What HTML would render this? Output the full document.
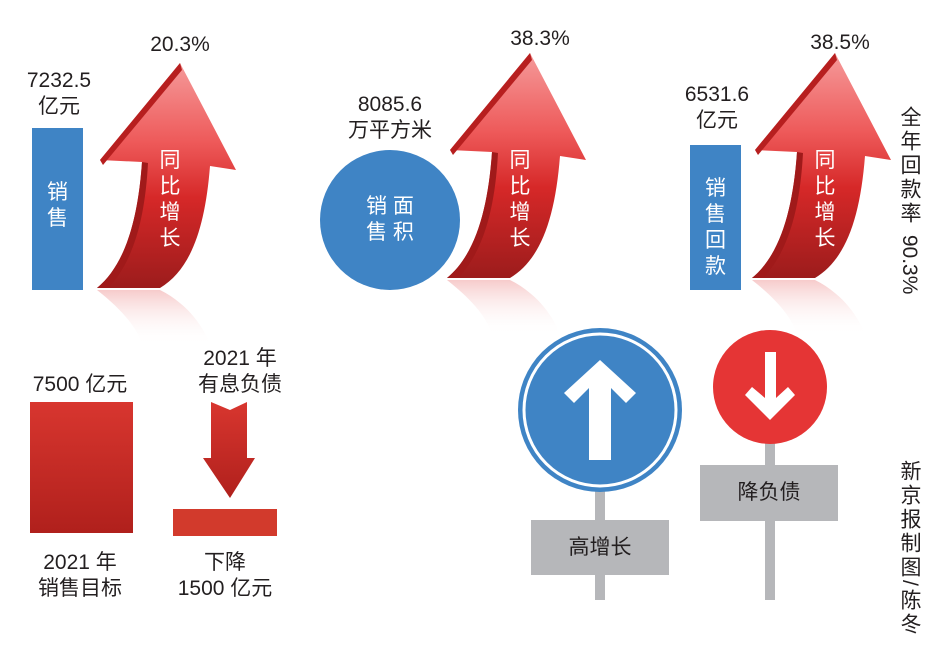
<!DOCTYPE html>
<html><head><meta charset="utf-8"><style>
body{margin:0;background:#fff;width:935px;height:639px;overflow:hidden;position:relative;font-family:"Liberation Sans","Noto Sans CJK SC",sans-serif;}
.t{position:absolute;color:#231f20;font-size:21px;text-align:center;line-height:26px;white-space:nowrap}
.w{color:#fff}
.v{position:absolute;writing-mode:vertical-rl;font-size:21px;color:#231f20;line-height:22px;letter-spacing:3px;white-space:nowrap;height:200px}
.v span{letter-spacing:0}
</style></head><body>
<svg width="935" height="639" style="position:absolute;left:0;top:0">
<defs>
<linearGradient id="g" x1="0" y1="0" x2="0" y2="1">
<stop offset="0" stop-color="#f59a9a"/><stop offset="0.35" stop-color="#ee5a5a"/><stop offset="0.6" stop-color="#d62828"/><stop offset="1" stop-color="#9c1c1c"/></linearGradient>
<linearGradient id="rf" x1="0" y1="0" x2="0" y2="1">
<stop offset="0" stop-color="#f3b5b5" stop-opacity="0.7"/><stop offset="1" stop-color="#fff" stop-opacity="0"/></linearGradient>
<linearGradient id="dg" x1="0" y1="0" x2="0" y2="1">
<stop offset="0" stop-color="#d8362f"/><stop offset="1" stop-color="#b0201c"/></linearGradient>
<g id="arr">
<path d="M97,290 C125,312 138,330 142,345 L210,345 C205,330 190,305 160,290 Z" fill="url(#rf)"/>
<path d="M180,63 L236,170 L210,166 C205,230 190,270 160,288 L97,288 C125,265 138,220 142,162 L100,160 Z" fill="url(#g)"/>
<path d="M180,63 L100,160 L103,165 L182,70 Z" fill="#b71f1f"/>
<path d="M142,162 C138,220 125,265 97,288 L108,288 C133,262 145,220 148,163 Z" fill="#a01a1a"/>
</g>
</defs>
<rect x="32" y="128" width="51" height="162" fill="#3f84c5"/>
<use href="#arr"/>
<circle cx="390" cy="220" r="70" fill="#3f84c5"/>
<use href="#arr" transform="translate(350,-10)"/>
<rect x="690" y="145" width="51" height="145" fill="#3f84c5"/>
<use href="#arr" transform="translate(655,-10)"/>
<rect x="30" y="402" width="103" height="131" fill="url(#dg)"/>
<rect x="173" y="509" width="104" height="27" fill="#d23a2c"/>
<path d="M211,402 L230,410 L247,402 L247,458 L255,458 L230,498 L203,458 L211,458 Z" fill="url(#dg)"/>
<rect x="595" y="490" width="10" height="110" fill="#b6b7ba"/>
<circle cx="600" cy="410" r="82" fill="#3f84c5"/>
<circle cx="600" cy="410" r="76" fill="none" stroke="#fff" stroke-width="3"/>
<path d="M589,460 L611,460 L611,388 L626,403 L636,393 L600,360 L564,393 L574,403 L589,388 Z" fill="#fff"/>
<rect x="531" y="520" width="138" height="55" fill="#b6b7ba"/>
<rect x="765" y="440" width="10" height="160" fill="#b6b7ba"/>
<circle cx="770" cy="387" r="57" fill="#e53535"/>
<path d="M765,352 L776,352 L776,398 L788,387 L795,395 L770,420 L745,395 L752,387 L765,398 Z" fill="#fff"/>
<rect x="700" y="465" width="138" height="56" fill="#b6b7ba"/>
</svg>
<div class="t" style="left:20px;top:68px;width:78px">7232.5<br>亿元</div>
<div class="t w" style="left:32px;top:180px;width:51px">销<br>售</div>
<div class="t" style="left:140px;top:32px;width:80px">20.3%</div>
<div class="t w" style="left:155px;top:148px;width:30px">同<br>比<br>增<br>长</div>
<div class="t" style="left:340px;top:92px;width:100px">8085.6<br>万平方米</div>
<div class="t w" style="left:340px;top:194px;width:100px">销 面<br>售 积</div>
<div class="t" style="left:500px;top:26px;width:80px">38.3%</div>
<div class="t w" style="left:505px;top:148px;width:30px">同<br>比<br>增<br>长</div>
<div class="t" style="left:672px;top:82px;width:90px">6531.6<br>亿元</div>
<div class="t w" style="left:690px;top:176px;width:51px">销<br>售<br>回<br>款</div>
<div class="t" style="left:800px;top:30px;width:80px">38.5%</div>
<div class="t w" style="left:810px;top:148px;width:30px">同<br>比<br>增<br>长</div>
<div class="v" style="left:898px;top:106px">全年回款率 <span>90.3%</span></div>
<div class="v" style="left:898px;top:460px">新京报制图/陈冬</div>
<div class="t" style="left:20px;top:372px;width:120px">7500 亿元</div>
<div class="t" style="left:180px;top:346px;width:120px">2021 年<br>有息负债</div>
<div class="t" style="left:20px;top:550px;width:120px">2021 年<br>销售目标</div>
<div class="t" style="left:165px;top:550px;width:120px">下降<br>1500 亿元</div>
<div class="t" style="left:531px;top:535px;width:138px">高增长</div>
<div class="t" style="left:700px;top:480px;width:138px">降负债</div>
</body></html>
